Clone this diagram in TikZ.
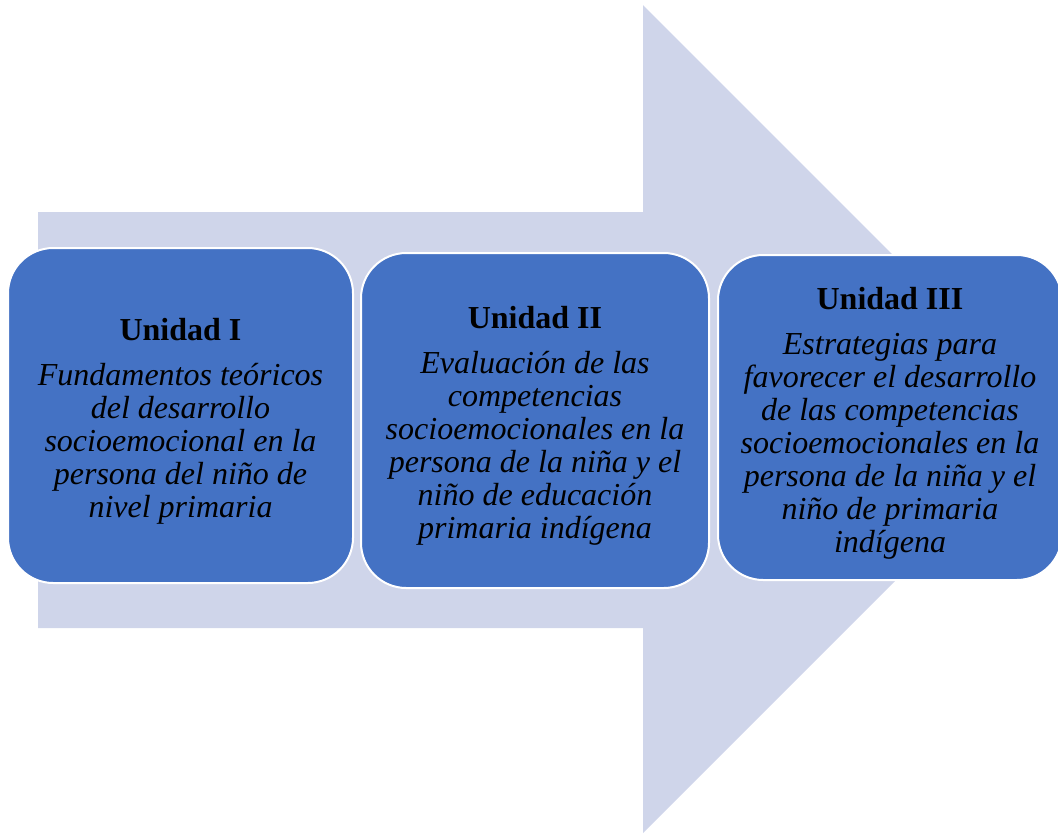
\documentclass[tikz,border=0pt]{standalone}
\usepackage{fontspec}
\setmainfont{Liberation Serif}
\usepackage{tikz}

\definecolor{arrowfill}{HTML}{CFD5EA}
\definecolor{unitfill}{HTML}{4472C4}
\newcommand{\unittitle}[1]{\rule{0pt}{25pt}\textbf{#1}}

\begin{document}
\begin{tikzpicture}[x=0.75pt,y=-0.75pt,
        unit/.style={draw=white, line width=1.5pt, fill=unitfill, rounded corners=34pt,
            align=center, inner sep=0pt, font=\fontsize{24}{24.75}\selectfont}]
    \useasboundingbox (0,0) rectangle (1058,833);
    \fill[arrowfill] (38,212) -- (643,212) -- (643,5) -- (1057,419) -- (643,833)
        -- (643,628) -- (38,628) -- cycle;
    \node[unit, minimum width=258.75pt, minimum height=251.25pt] (U1) at (180.5,415.5)
        {\unittitle{Unidad I}\\[9pt]\itshape Fundamentos teóricos\\\itshape del desarrollo\\
        \itshape socioemocional en la\\\itshape persona del niño de\\\itshape nivel primaria};
    \node[unit, minimum width=261pt, minimum height=251.25pt] (U2) at (535,420.5)
        {\unittitle{Unidad II}\\[9pt]\itshape Evaluación de las\\\itshape competencias\\
        \itshape socioemocionales en la\\\itshape persona de la niña y el\\
        \itshape niño de educación\\\itshape primaria indígena};
    \node[unit, minimum width=258pt, minimum height=243.75pt] (U3) at (890,417.5)
        {\unittitle{Unidad III}\\[9pt]\itshape Estrategias para\\\itshape favorecer el desarrollo\\
        \itshape de las competencias\\\itshape socioemocionales en la\\
        \itshape persona de la niña y el\\\itshape niño de primaria\\\itshape indígena};
\end{tikzpicture}
\end{document}
